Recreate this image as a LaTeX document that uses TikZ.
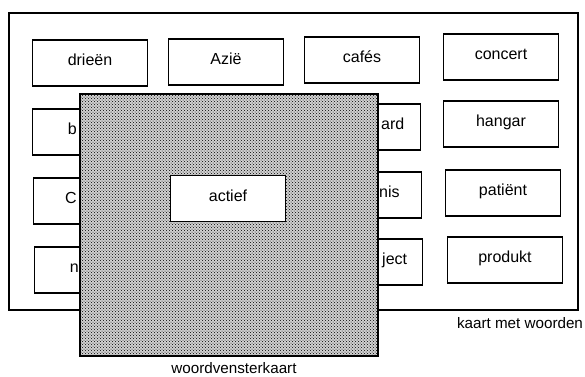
\documentclass[tikz,border=0pt]{standalone}
\usepackage{fontspec}
\setmainfont{Liberation Sans}
\usetikzlibrary{patterns}
\tikzset{
  card/.style={draw, line width=1.3pt, minimum width=569pt, minimum height=297pt},
  wordbox/.style={draw, fill=white, line width=1.2pt, minimum width=115pt,
    minimum height=46pt, font=\fontsize{16}{19}\selectfont,
    text height=0.75em, text depth=0.25em},
  cut/.style={font=\fontsize{16}{19}\selectfont, inner sep=0pt,
    text height=0.75em, text depth=0.25em},
  window/.style={draw, line width=1.4pt, preaction={fill=black!18},
    pattern=crosshatch dots, pattern color=black,
    minimum width=298pt, minimum height=262pt},
  caption/.style={font=\fontsize{15.2}{18}\selectfont, inner sep=0pt}
}

\begin{document}
\begin{tikzpicture}[x=1pt, y=-1pt]
  \useasboundingbox (0,0) rectangle (585,376);

  % kaart met woorden
  \node[card] (kaart) at (293.5,161.5) {};
  \node[wordbox] (drieen) at (90,63) {drieën};
  \node[wordbox] (azie) at (226,62) {Azië};
  \node[wordbox] (cafes) at (362,60) {cafés};
  \node[wordbox] (concert) at (501,57) {concert};
  \node[wordbox] (linksb) at (90,132) {};
  \node[wordbox] (rechtsard) at (363,127) {};
  \node[wordbox] (hangar) at (501,124) {hangar};
  \node[wordbox] (linksc) at (91,201) {};
  \node[wordbox] (rechtsnis) at (364,195) {};
  \node[wordbox] (patient) at (503,193) {patiënt};
  \node[wordbox] (linksn) at (92,270) {};
  \node[wordbox] (rechtsject) at (365,262) {};
  \node[wordbox] (produkt) at (505,260) {produkt};

  % stukjes woord langs het venster
  \node[cut, anchor=east] (b) at (77,132) {b};
  \node[cut, anchor=east] (c) at (77,201) {C};
  \node[cut, anchor=east] (n) at (79,270) {n};
  \node[cut, anchor=west] (ard) at (381,127) {ard};
  \node[cut, anchor=west] (nis) at (379,195) {nis};
  \node[cut, anchor=west] (ject) at (382,262) {ject};

  % woordvensterkaart
  \node[window] (venster) at (229,225) {};
  \node[wordbox] (actief) at (228,198.5) {actief};

  \node[caption] (kaartlabel) at (520,323) {kaart met woorden};
  \node[caption] (vensterlabel) at (234,368) {woordvensterkaart};
\end{tikzpicture}
\end{document}
